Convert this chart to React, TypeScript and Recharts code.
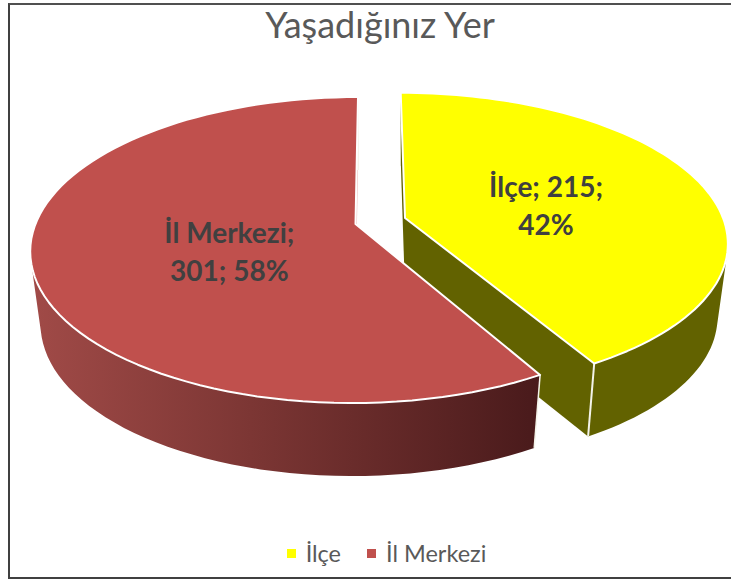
import { PieChart, Pie, Cell, Legend } from "recharts";

const categories = ["İlçe", "İl Merkezi"];
const counts = [215, 301];
const labelLines = [
  ["İlçe; 215;", "42%"],
  ["İl Merkezi;", "301; 58%"],
];
const topColors = ["#ffff00", "#c0504d"];

const tableData = categories.map((name, i) => ({ name, value: counts[i] }));

// fake 3D: each exploded slice has its own perspective projection of the circle
const sliceViews = [
  { ax: 405, ay: 218, c: 318, a: 145, b: 0.158, shear: 0.034, labelR: 0.47, labelDy: 6 },
  { ax: 355.5, ay: 224, c: 320, a: 148.6, b: 0.17, shear: -0.02, labelR: 0.4, labelDy: 13 },
];
const WALL = 73;
const WALL_SHRINK = 0.968;

type View = (typeof sliceViews)[number];
type Pt = { x: number; y: number };

function project(view: View, theta: number, r = 1) {
  const t = (theta * Math.PI) / 180;
  const u = Math.sin(t) * r;
  const v = -Math.cos(t) * r;
  const w = 1 - view.b * v;
  const dy = (view.a * v) / w;
  return { x: view.ax + (view.c * u) / w + view.shear * dy, y: view.ay + dy };
}

function lower(view: View, p: Pt) {
  return { x: view.ax + (p.x - view.ax) * WALL_SHRINK, y: p.y + WALL };
}

const toPath = (pts: Pt[], close = true) =>
  pts.map((p, i) => `${i ? "L" : "M"}${p.x.toFixed(1)} ${p.y.toFixed(1)}`).join(" ") + (close ? " Z" : "");

function rim(view: View, from: number, to: number) {
  const pts: Pt[] = [];
  const n = 90;
  for (let i = 0; i <= n; i++) pts.push(project(view, from + ((to - from) * i) / n));
  return pts;
}

// the wall as quads, all wound the same way so the overlap at the silhouette doesn't cancel
function wallPath(view: View, arc: Pt[]) {
  const parts: string[] = [];
  for (let i = 0; i < arc.length - 1; i++) {
    const quad = [arc[i], arc[i + 1], lower(view, arc[i + 1]), lower(view, arc[i])];
    let area = 0;
    quad.forEach((p, k) => {
      const q = quad[(k + 1) % 4];
      area += p.x * q.y - q.x * p.y;
    });
    parts.push(toPath(area < 0 ? quad.reverse() : quad));
  }
  return parts.join(" ");
}

function SliceShape(props: any) {
  const index = props.name === categories[0] ? 0 : 1;
  const view = sliceViews[index];
  const from = 90 - props.startAngle;
  const to = 90 - props.endAngle;
  const arc = rim(view, from, to);
  const apex = { x: view.ax, y: view.ay };
  const first = arc[0];
  const last = arc[arc.length - 1];
  const gradId = `wall-${index}`;
  const wallFill = index === 0 ? "#626200" : `url(#${gradId})`;
  return (
    <g>
      <defs>
        <linearGradient id={gradId} gradientUnits="userSpaceOnUse" x1={35} y1={0} x2={540} y2={0}>
          <stop offset="0%" stopColor="#a04a47" />
          <stop offset="45%" stopColor="#7a3533" />
          <stop offset="100%" stopColor="#491a1b" />
        </linearGradient>
      </defs>
      {/* cut faces */}
      <path d={toPath([apex, first, lower(view, first), lower(view, apex)])} fill={index === 0 ? "#626200" : "#e8b8b6"} />
      <path d={toPath([apex, last, lower(view, last), lower(view, apex)])} fill={index === 0 ? "#626200" : "#e8b8b6"} />
      <path d={wallPath(view, arc)} fill={wallFill} />
      <path d={toPath([last, lower(view, last)], false)} stroke="#f4f4ea" strokeWidth={2} fill="none" />
      {index === 1 && <path d={toPath([first, lower(view, first)], false)} stroke="#f4f4ea" strokeWidth={1.5} fill="none" />}
      <path d={toPath([apex, ...arc])} fill={props.fill} stroke="#ffffff" strokeWidth={2} strokeLinejoin="round" />
    </g>
  );
}

function SliceLabel(props: any) {
  const index = props.name === categories[0] ? 0 : 1;
  const view = sliceViews[index];
  const p = project(view, 90 - props.midAngle, view.labelR);
  const y = p.y + view.labelDy;
  return (
    <text textAnchor="middle" fontFamily="Lato, sans-serif" fontWeight={700} fontSize={28} fill="#404040">
      <tspan x={p.x} y={y - 10}>{labelLines[index][0]}</tspan>
      <tspan x={p.x} y={y + 28}>{labelLines[index][1]}</tspan>
    </text>
  );
}

function LegendRow() {
  return (
    <div
      style={{
        display: "flex",
        justifyContent: "center",
        marginLeft: 42,
        fontFamily: "Lato, sans-serif",
        fontSize: 23.5,
        color: "#595959",
      }}
    >
      {categories.map((name, i) => (
        <div key={name} style={{ display: "flex", alignItems: "center", marginRight: i === 0 ? 26 : 0 }}>
          <span style={{ width: 9, height: 9, background: topColors[i], marginRight: 10, display: "inline-block" }} />
          <span>{name}</span>
        </div>
      ))}
    </div>
  );
}

export default function App() {
  return (
    <div style={{ position: "absolute", left: 0, top: 0, width: 731, height: 579, background: "#fff", overflow: "hidden" }}>
      <div
        style={{
          position: "absolute",
          left: 8,
          top: 3,
          right: -4,
          height: 572,
          borderLeft: "2px solid #404040",
          borderTop: "2px solid #505050",
          borderBottom: "2px solid #404040",
        }}
      />
      <div style={{ position: "absolute", left: 0, top: 0 }}>
        <PieChart width={731} height={579} margin={{ top: 0, right: 0, bottom: 0, left: 0 }}>
          <text x={380} y={38} textAnchor="middle" fontFamily="Lato, sans-serif" fontSize={36} fill="#595959">
            Yaşadığınız Yer
          </text>
          <Pie
            data={tableData}
            dataKey="value"
            nameKey="name"
            cx={379}
            cy={240}
            outerRadius={150}
            startAngle={90}
            endAngle={-270}
            stroke="none"
            shape={SliceShape}
            label={SliceLabel}
            labelLine={false}
            isAnimationActive={false}
          >
            {tableData.map((d, i) => (
              <Cell key={d.name} fill={topColors[i]} />
            ))}
          </Pie>
          <Legend content={LegendRow} verticalAlign="bottom" wrapperStyle={{ bottom: 12 }} />
        </PieChart>
      </div>
    </div>
  );
}
